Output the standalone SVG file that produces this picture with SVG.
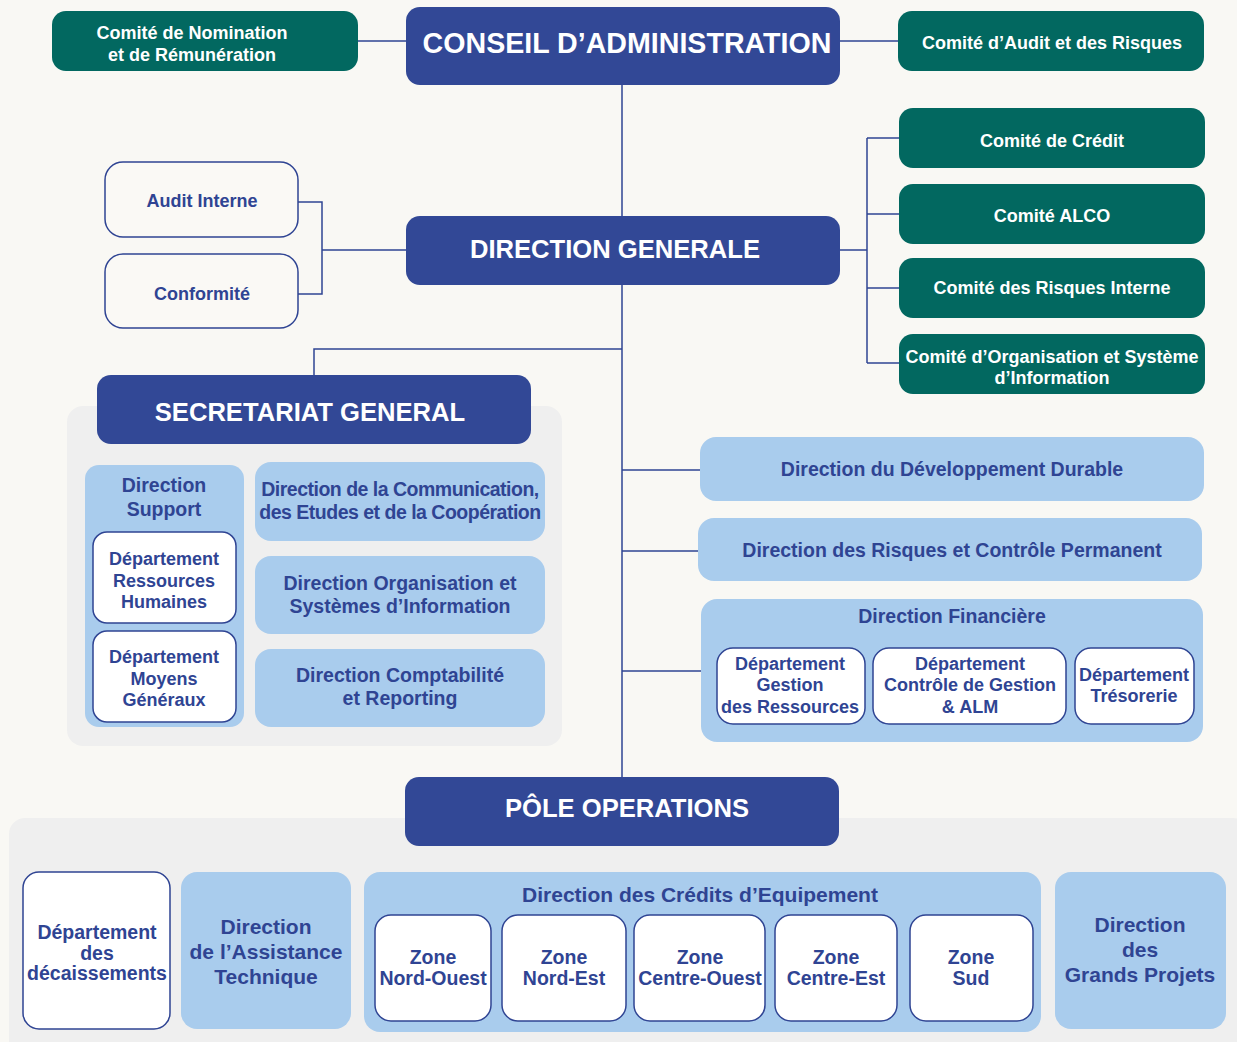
<svg xmlns="http://www.w3.org/2000/svg" width="1237" height="1042" viewBox="0 0 1237 1042">
<style>
text{font-family:"Liberation Sans",Arial,sans-serif;font-weight:bold;text-anchor:middle}
.navy{fill:#324896}
.teal{fill:#026860}
.lb{fill:#a9cced}
.wb{fill:#ffffff;stroke:#2f4493;stroke-width:1.5}
.ob{fill:#faf9f5;stroke:#2f4493;stroke-width:1.5}
.panel{fill:#efefef}
.tw{fill:#ffffff}
.tn{fill:#2f4493}
.big{font-size:25.6px}
.com{font-size:18px}
.dir{font-size:19.5px}
.dep{font-size:18px}
.zn{font-size:19.5px}
.lg{font-size:21px}
.conn{fill:none;stroke:#2f4493;stroke-width:1.5}
</style>
<rect width="1237" height="1042" fill="#f9f8f4"/>
<rect class="panel" x="67" y="406" width="495" height="340" rx="16"/>
<rect class="panel" x="9" y="818" width="1240" height="240" rx="16"/>
<g id="connectors">
<path class="conn" d="M358 41H406M840 41H898M622 85V777M298 202H322V294H298M322 250H406M840 250H867M867 138V363M867 138H899M867 214H899M867 288H899M867 363H899M622 349H314V376M622 470H700M622 551H698M622 671H701"/>
</g>
<g id="comite-nomination"><rect class="teal" x="52" y="11" width="306" height="60" rx="14"/><text class="tw com" x="192" y="38.5">Comité de Nomination</text><text class="tw com" x="192" y="60.5">et de Rémunération</text></g>
<g id="conseil"><rect class="navy" x="406" y="7" width="434" height="78" rx="14"/><text class="tw" x="627" y="53" font-size="28.6">CONSEIL D’ADMINISTRATION</text></g>
<g id="comite-audit"><rect class="teal" x="898" y="11" width="306" height="60" rx="14"/><text class="tw com" x="1052" y="48.5">Comité d’Audit et des Risques</text></g>
<g id="direction-generale"><rect class="navy" x="406" y="216" width="434" height="69" rx="14"/><text class="tw big" x="615" y="258">DIRECTION GENERALE</text></g>
<g id="audit-interne"><rect class="ob" x="105" y="162" width="193" height="75" rx="18"/><text class="tn com" x="202" y="206.5">Audit Interne</text></g>
<g id="conformite"><rect class="ob" x="105" y="254" width="193" height="74" rx="18"/><text class="tn com" x="202" y="299.5">Conformité</text></g>
<g id="comite-credit"><rect class="teal" x="899" y="108" width="306" height="60" rx="14"/><text class="tw com" x="1052" y="147">Comité de Crédit</text></g>
<g id="comite-alco"><rect class="teal" x="899" y="184" width="306" height="60" rx="14"/><text class="tw com" x="1052" y="222">Comité ALCO</text></g>
<g id="comite-risques"><rect class="teal" x="899" y="258" width="306" height="60" rx="14"/><text class="tw com" x="1052" y="293.5">Comité des Risques Interne</text></g>
<g id="comite-organisation"><rect class="teal" x="899" y="334" width="306" height="60" rx="14"/><text class="tw com" x="1052" y="363">Comité d’Organisation et Système</text><text class="tw com" x="1052" y="384">d’Information</text></g>
<g id="secretariat"><rect class="navy" x="97" y="375" width="434" height="69" rx="14"/><text class="tw big" x="310" y="421">SECRETARIAT GENERAL</text></g>
<g id="direction-support"><rect class="lb" x="85" y="465" width="159" height="262" rx="14"/><text class="tn dir" x="164" y="491.5">Direction</text><text class="tn dir" x="164" y="515.5">Support</text></g>
<g id="dep-rh"><rect class="wb" x="93" y="532" width="143" height="91" rx="14"/><text class="tn dep" x="164" y="564.5">Département</text><text class="tn dep" x="164" y="586.5">Ressources</text><text class="tn dep" x="164" y="607.5">Humaines</text></g>
<g id="dep-moyens"><rect class="wb" x="93" y="631" width="143" height="91" rx="14"/><text class="tn dep" x="164" y="662.5">Département</text><text class="tn dep" x="164" y="684.5">Moyens</text><text class="tn dep" x="164" y="705.5">Généraux</text></g>
<g id="dir-communication"><rect class="lb" x="255" y="462" width="290" height="79" rx="16"/><text class="tn dir" x="400" y="495.5" letter-spacing="-0.5">Direction de la Communication,</text><text class="tn dir" x="400" y="518.5" letter-spacing="-0.5">des Etudes et de la Coopération</text></g>
<g id="dir-organisation"><rect class="lb" x="255" y="556" width="290" height="78" rx="16"/><text class="tn dir" x="400" y="589.5">Direction Organisation et</text><text class="tn dir" x="400" y="612.5">Systèmes d’Information</text></g>
<g id="dir-comptabilite"><rect class="lb" x="255" y="649" width="290" height="78" rx="16"/><text class="tn dir" x="400" y="681.5">Direction Comptabilité</text><text class="tn dir" x="400" y="704.5">et Reporting</text></g>
<g id="dir-developpement"><rect class="lb" x="700" y="437" width="504" height="64" rx="16"/><text class="tn dir" x="952" y="476">Direction du Développement Durable</text></g>
<g id="dir-risques"><rect class="lb" x="698" y="518" width="504" height="63" rx="16"/><text class="tn dir" x="952" y="557">Direction des Risques et Contrôle Permanent</text></g>
<g id="dir-financiere"><rect class="lb" x="701" y="599" width="502" height="143" rx="16"/><text class="tn dir" x="952" y="623">Direction Financière</text></g>
<g id="dep-gestion-ressources"><rect class="wb" x="717" y="648" width="148" height="76" rx="16"/><text class="tn dep" x="790" y="669.5">Département</text><text class="tn dep" x="790" y="690.5">Gestion</text><text class="tn dep" x="790" y="712.5">des Ressources</text></g>
<g id="dep-controle"><rect class="wb" x="873" y="648" width="193" height="76" rx="16"/><text class="tn dep" x="970" y="669.5">Département</text><text class="tn dep" x="970" y="690.5">Contrôle de Gestion</text><text class="tn dep" x="970" y="712.5">&amp; ALM</text></g>
<g id="dep-tresorerie"><rect class="wb" x="1075" y="648" width="119" height="76" rx="16"/><text class="tn dep" x="1134" y="680.5">Département</text><text class="tn dep" x="1134" y="701.5">Trésorerie</text></g>
<g id="pole-operations"><rect class="navy" x="405" y="777" width="434" height="69" rx="14"/><text class="tw big" x="627" y="817">PÔLE OPERATIONS</text></g>
<g id="dep-decaissements"><rect class="wb" x="23" y="872" width="147" height="157" rx="16"/><text class="tn zn" x="97" y="939">Département</text><text class="tn zn" x="97" y="960">des</text><text class="tn zn" x="97" y="980">décaissements</text></g>
<g id="dir-assistance"><rect class="lb" x="181" y="872" width="170" height="157" rx="16"/><text class="tn lg" x="266" y="933.5">Direction</text><text class="tn lg" x="266" y="958.5">de l’Assistance</text><text class="tn lg" x="266" y="983.5">Technique</text></g>
<g id="dir-credits"><rect class="lb" x="364" y="872" width="677" height="160" rx="16"/><text class="tn lg" x="700" y="901.5">Direction des Crédits d’Equipement</text></g>
<g id="zone-no"><rect class="wb" x="375" y="915" width="116" height="106" rx="16"/><text class="tn zn" x="433" y="964">Zone</text><text class="tn zn" x="433" y="985">Nord-Ouest</text></g>
<g id="zone-ne"><rect class="wb" x="502" y="915" width="124" height="106" rx="16"/><text class="tn zn" x="564" y="964">Zone</text><text class="tn zn" x="564" y="985">Nord-Est</text></g>
<g id="zone-co"><rect class="wb" x="634" y="915" width="131" height="106" rx="16"/><text class="tn zn" x="700" y="964">Zone</text><text class="tn zn" x="700" y="985">Centre-Ouest</text></g>
<g id="zone-ce"><rect class="wb" x="775" y="915" width="122" height="106" rx="16"/><text class="tn zn" x="836" y="964">Zone</text><text class="tn zn" x="836" y="985">Centre-Est</text></g>
<g id="zone-sud"><rect class="wb" x="910" y="915" width="123" height="106" rx="16"/><text class="tn zn" x="971" y="964">Zone</text><text class="tn zn" x="971" y="985">Sud</text></g>
<g id="dir-grands-projets"><rect class="lb" x="1055" y="872" width="171" height="157" rx="16"/><text class="tn lg" x="1140" y="931.5">Direction</text><text class="tn lg" x="1140" y="956.5">des</text><text class="tn lg" x="1140" y="981.5">Grands Projets</text></g>
</svg>
